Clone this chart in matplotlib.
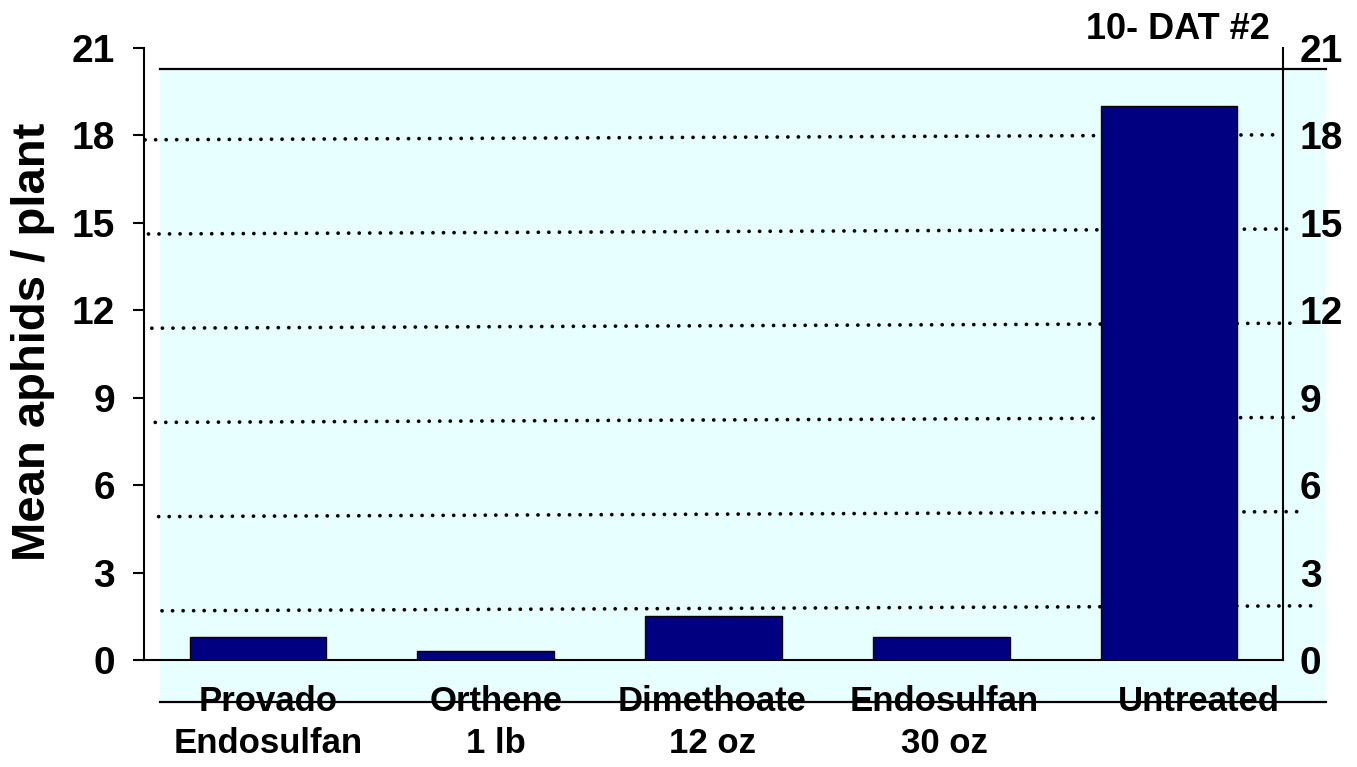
import matplotlib
matplotlib.use("Agg")
import matplotlib.pyplot as plt
from matplotlib.lines import Line2D
from matplotlib.patches import Rectangle
import numpy as np

# ---- data ----
categories = ["Provado\nEndosulfan", "Orthene\n1 lb", "Dimethoate\n12 oz", "Endosulfan\n30 oz", "Untreated"]
values = [0.8, 0.3, 1.5, 0.8, 19.0]
yticks = [0, 3, 6, 9, 12, 15, 18, 21]
title = "10- DAT #2"
ylabel = "Mean aphids / plant"

plt.rcParams['font.family'] = ['Liberation Sans', 'DejaVu Sans']
plt.rcParams['font.weight'] = 'bold'

W, H = 1357, 767
fig = plt.figure(figsize=(W / 100, H / 100), dpi=100)

# background "wall" drawn in pixel coordinates
bg = fig.add_axes([0, 0, 1, 1], zorder=0)
bg.set_xlim(0, W)
bg.set_ylim(H, 0)
bg.axis('off')
wall_l, wall_r, wall_t, wall_b = 160, 1326, 69, 702
bg.add_patch(Rectangle((wall_l, wall_t), wall_r - wall_l, wall_b - wall_t,
                       facecolor='#E8FFFF', edgecolor='none'))
bg.add_line(Line2D([wall_l, wall_r], [wall_t, wall_t], color='black', lw=1.6))
bg.add_line(Line2D([wall_l, wall_r], [wall_b, wall_b], color='black', lw=1.6))
# slightly skewed dotted grid lines of the wall
for v in yticks[1:-1]:
    yl = 705 - 31.4 * v
    yr = yl - 5
    xl = 165.4 - 1.13 * v
    xr = 1319.6 - 2.2 * v
    bg.add_line(Line2D([xl, xr], [yl, yr], color='black', lw=2.7,
                       linestyle=(0, (0.01, 2.8)), dash_capstyle='round'))

# main axes
left, right, top, bottom = 144, 1283, 48, 660
ax = fig.add_axes([left / W, 1 - bottom / H, (right - left) / W, (bottom - top) / H], zorder=1)
ax.patch.set_alpha(0)
x = np.arange(len(categories))
ax.bar(x, values, width=0.6, color='#000080', edgecolor='black', linewidth=1.0, zorder=3)
ax.set_xlim(-0.5, len(categories) - 0.5)
ax.set_ylim(0, 21)
ax.set_yticks(yticks)
ax.set_yticklabels([str(t) for t in yticks], fontsize=28, fontweight='bold')
ax.tick_params(axis='y', which='both', direction='out', length=8, width=1.5, pad=13)
ax.set_xticks([])
for s in ['left', 'bottom', 'right']:
    ax.spines[s].set_linewidth(1.5)
    ax.spines[s].set_color('black')
ax.spines['top'].set_visible(False)

# right-hand value labels (no tick marks)
axr = ax.twinx()
axr.set_ylim(0, 21)
axr.set_yticks(yticks)
axr.set_yticklabels([str(t) for t in yticks], fontsize=28, fontweight='bold')
axr.tick_params(axis='y', length=0, pad=12)
for s in axr.spines.values():
    s.set_visible(False)

# category labels
offsets = [0.045, 0.045, -0.005, 0.012, 0.13]
for i, (c, off) in enumerate(zip(categories, offsets)):
    ax.annotate(c, xy=(x[i] + off, 0), xycoords=('data', 'axes fraction'),
                xytext=(0, -18), textcoords='offset points',
                ha='center', va='top', fontsize=25, fontweight='bold',
                linespacing=1.35, annotation_clip=False)

fig.text(33 / W, 1 - 342 / H, ylabel, rotation=90, ha='center', va='center',
         fontsize=34, fontweight='bold')
fig.text(1270 / W, 1 - 39 / H, title, ha='right', va='baseline',
         fontsize=26, fontweight='bold')

fig.savefig('out.png', dpi=100)
